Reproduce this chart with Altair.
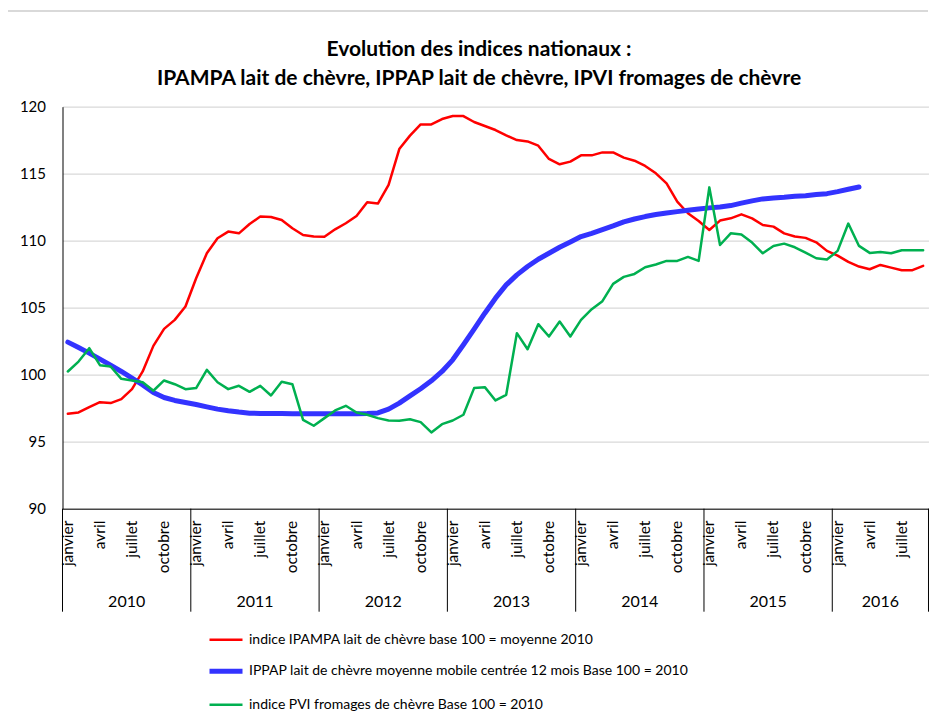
import altair as alt
import pandas as pd

# ---------------- data ----------------
years = ["2010", "2011", "2012", "2013", "2014", "2015", "2016"]
months_per_year = [12, 12, 12, 12, 12, 12, 9]
quarter_month_names = ["janvier", "avril", "juillet", "octobre"]

series_names = [
    "indice IPAMPA lait de chèvre base 100 = moyenne 2010",
    "IPPAP lait de chèvre moyenne mobile centrée 12 mois Base 100 = 2010",
    "indice PVI fromages de chèvre Base 100 = 2010",
]

ipampa = [
    97.08, 97.18, 97.58, 97.95, 97.88, 98.18, 98.92, 100.24, 102.15, 103.42, 104.09, 105.09,
    107.2, 109.06, 110.18, 110.68, 110.55, 111.25, 111.8, 111.77, 111.55, 110.93, 110.42, 110.31,
    110.3, 110.85, 111.3, 111.85, 112.87, 112.77, 114.16, 116.84, 117.84, 118.68, 118.68, 119.08,
    119.3, 119.3, 118.86, 118.56, 118.26, 117.86, 117.51, 117.41, 117.09, 116.1, 115.7, 115.9,
    116.37, 116.37, 116.59, 116.59, 116.2, 115.97, 115.58, 115.03, 114.28, 112.92, 112.05, 111.47,
    110.8, 111.5, 111.67, 111.97, 111.67, 111.17, 111.05, 110.55, 110.31, 110.21, 109.88, 109.24,
    108.89, 108.42, 108.07, 107.87, 108.19, 107.99, 107.8, 107.8, 108.12,
]

ippap = [
    102.43, 102.03, 101.61, 101.16, 100.71, 100.24, 99.74, 99.24, 98.67, 98.3, 98.08, 97.93,
    97.78, 97.6, 97.43, 97.31, 97.21, 97.13, 97.11, 97.1, 97.1, 97.09, 97.08, 97.08,
    97.08, 97.08, 97.08, 97.08, 97.1, 97.15, 97.43, 97.88, 98.42, 98.95, 99.54, 100.24,
    101.11, 102.23, 103.4, 104.59, 105.71, 106.7, 107.45, 108.07, 108.62, 109.06, 109.51, 109.91,
    110.31, 110.55, 110.82, 111.1, 111.4, 111.62, 111.8, 111.95, 112.07, 112.17, 112.27, 112.37,
    112.45, 112.52, 112.62, 112.8, 112.97, 113.12, 113.19, 113.24, 113.31, 113.36, 113.44, 113.51,
    113.66, 113.84, 114.01,
]

pvi = [
    100.24, 100.98, 101.98, 100.71, 100.61, 99.69, 99.57, 99.44, 98.8, 99.57, 99.29, 98.92,
    99.0, 100.36, 99.44, 98.92, 99.17, 98.72, 99.17, 98.45, 99.47, 99.29, 96.63, 96.19,
    96.76, 97.33, 97.68, 97.18, 97.01, 96.76, 96.58, 96.56, 96.68, 96.46, 95.69, 96.31,
    96.58, 97.01, 99.0, 99.07, 98.08, 98.5, 103.1, 101.9, 103.77, 102.85, 103.97, 102.85,
    104.09, 104.89, 105.49, 106.78, 107.3, 107.52, 108.02, 108.22, 108.49, 108.49, 108.79, 108.49,
    113.98, 109.68, 110.55, 110.46, 109.86, 109.06, 109.61, 109.78, 109.51, 109.11, 108.69, 108.59,
    109.24, 111.28, 109.61, 109.09, 109.16, 109.06, 109.29, 109.29, 109.29,
]

y_ticks = [90, 95, 100, 105, 110, 115, 120]

# ---------------- tables ----------------
rows = []
for name, vals in zip(series_names, [ipampa, ippap, pvi]):
    for i, v in enumerate(vals):
        rows.append({"series": name, "t": i + 0.5, "value": v})
df = pd.DataFrame(rows)

n_months = sum(months_per_year)
bounds = [0]
for n in months_per_year:
    bounds.append(bounds[-1] + n)
sep_df = pd.DataFrame({"b": bounds})
year_df = pd.DataFrame({
    "year": years,
    "c": [(bounds[k] + bounds[k + 1]) / 2 for k in range(len(years))],
})
month_rows = []
for m in range(n_months):
    if m % 3 == 0:
        month_rows.append({"t": m + 0.5, "label": quarter_month_names[(m % 12) // 3]})
month_df = pd.DataFrame(month_rows)

# ---------------- styles ----------------
FONT = "Lato"
W, H = 866, 402
colors = ["#ff0000", "#3333ff", "#00b050"]
widths = [2.5, 5, 2.5]

xs = alt.Scale(domain=[0, n_months], nice=False, zero=False)
ys = alt.Scale(domain=[90, 120], nice=False, zero=False)

legend = alt.Legend(
    orient="none", legendX=144.5, legendY=515, title=None,
    symbolType="stroke", symbolSize=1089, labelFont=FONT, labelFontSize=14,
    labelColor="black", labelLimit=0, rowPadding=5.5, padding=0, labelOffset=4,
)

lines = alt.Chart(df).mark_line(strokeJoin="round", strokeCap="round").encode(
    x=alt.X("t:Q", scale=xs, title=None, axis=alt.Axis(
        values=[0], labels=False, ticks=False, grid=False,
        domainColor="black", domainWidth=1)),
    y=alt.Y("value:Q", scale=ys, title=None, axis=alt.Axis(
        values=y_ticks, ticks=False, grid=True, gridColor="#d9d9d9", gridWidth=1.2,
        domainColor="black", domainWidth=1, labelFont=FONT, labelFontSize=15,
        labelColor="black", labelPadding=17)),
    color=alt.Color("series:N", scale=alt.Scale(domain=series_names, range=colors), legend=legend),
    strokeWidth=alt.StrokeWidth("series:N", scale=alt.Scale(type="ordinal", domain=series_names, range=widths), legend=legend),
)

month_text = alt.Chart(month_df).mark_text(
    font=FONT, fontSize=15.5, color="black", angle=270, align="right", baseline="middle"
).encode(
    x=alt.X("t:Q", scale=xs), y=alt.value(H + 12), text="label:N",
)

seps = alt.Chart(sep_df).mark_rule(color="black", strokeWidth=1).encode(
    x=alt.X("b:Q", scale=xs), y=alt.value(H), y2=alt.value(H + 103),
)

year_text = alt.Chart(year_df).mark_text(font=FONT, fontSize=16, color="black", baseline="middle").encode(
    x=alt.X("c:Q", scale=xs), y=alt.value(H + 93), text="year:N",
)

border_top = alt.Chart(sep_df).mark_rule(color="#d9d9d9", strokeWidth=2).encode(
    x=alt.value(-55.5), x2=alt.value(865.5), y=alt.value(-95.7),
)
border_left = alt.Chart(sep_df).mark_rule(color="#d9d9d9", strokeWidth=2).encode(
    x=alt.value(-55.5), y=alt.value(-95.7), y2=alt.value(H + 220),
)

chart = alt.layer(border_top, border_left, lines, month_text, seps, year_text).properties(
    width=W, height=H,
    title=alt.TitleParams(
        text=["Evolution des indices nationaux :",
              "IPAMPA lait de chèvre, IPPAP lait de chèvre, IPVI fromages de chèvre"],
        font=FONT, fontSize=21, fontWeight="bold", color="black",
        anchor="middle", dx=-16.5, dy=79, offset=0, lineHeight=29,
    ),
    padding={"left": 54.5, "top": 98.7, "right": 1, "bottom": 203},
    autosize=alt.AutoSizeParams(type="none"),
).configure_view(stroke=None)

chart.save("out.html", embed_options={"renderer": "svg", "actions": False})
